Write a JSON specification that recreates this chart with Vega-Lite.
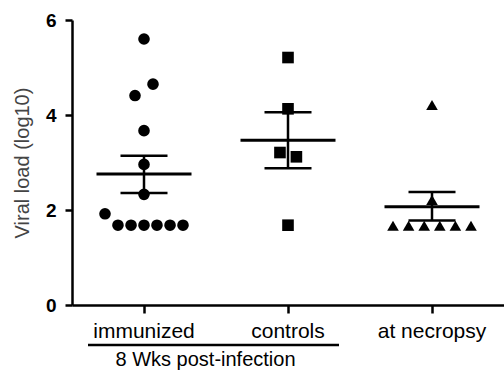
{
  "$schema": "https://vega.github.io/schema/vega-lite/v6.json",
  "width": 432,
  "height": 285,
  "autosize": "none",
  "padding": {"left": 72, "top": 20, "right": 0, "bottom": 67},
  "background": "white",
  "config": {
    "view": {"stroke": null},
    "font": "Liberation Sans",
    "axis": {"grid": false, "domainColor": "#000", "tickColor": "#000", "labelColor": "#000", "domainWidth": 2.5, "tickWidth": 2.5}
  },
  "datasets": {
    "pts": [
      {"group": "immunized", "value": 5.6, "jit": 0},
      {"group": "immunized", "value": 4.65, "jit": 0.75},
      {"group": "immunized", "value": 4.41, "jit": -0.75},
      {"group": "immunized", "value": 3.67, "jit": 0},
      {"group": "immunized", "value": 2.96, "jit": 0},
      {"group": "immunized", "value": 2.33, "jit": 0},
      {"group": "immunized", "value": 1.92, "jit": -3.25},
      {"group": "immunized", "value": 1.68, "jit": -2.17},
      {"group": "immunized", "value": 1.68, "jit": -1.08},
      {"group": "immunized", "value": 1.68, "jit": 0},
      {"group": "immunized", "value": 1.68, "jit": 1.08},
      {"group": "immunized", "value": 1.68, "jit": 2.17},
      {"group": "immunized", "value": 1.68, "jit": 3.25},
      {"group": "controls", "value": 5.21, "jit": 0},
      {"group": "controls", "value": 4.13, "jit": 0},
      {"group": "controls", "value": 3.21, "jit": -0.67},
      {"group": "controls", "value": 3.12, "jit": 0.7},
      {"group": "controls", "value": 1.68, "jit": 0},
      {"group": "at necropsy", "value": 4.21, "jit": 0},
      {"group": "at necropsy", "value": 2.21, "jit": 0},
      {"group": "at necropsy", "value": 1.67, "jit": -3.25},
      {"group": "at necropsy", "value": 1.67, "jit": -1.95},
      {"group": "at necropsy", "value": 1.67, "jit": -0.65},
      {"group": "at necropsy", "value": 1.67, "jit": 0.65},
      {"group": "at necropsy", "value": 1.67, "jit": 1.95},
      {"group": "at necropsy", "value": 1.67, "jit": 3.25}
    ],
    "stats": [
      {"group": "immunized", "mean": 2.76, "lo": 2.36, "hi": 3.14},
      {"group": "controls", "mean": 3.47, "lo": 2.88, "hi": 4.06},
      {"group": "at necropsy", "mean": 2.07, "lo": 1.78, "hi": 2.38}
    ],
    "bracket": [
      {"from": "immunized", "to": "controls", "level": -0.84}
    ]
  },
  "layer": [
    {
      "data": {"name": "pts"},
      "mark": {"type": "point", "filled": true, "opacity": 1, "color": "#000", "size": 135},
      "encoding": {
        "x": {
          "field": "group", "type": "nominal", "title": "8 Wks post-infection",
          "scale": {"domain": ["immunized", "controls", "at necropsy"], "paddingInner": 0, "paddingOuter": 0},
          "axis": {"titleFontSize": 20, "titleFontWeight": "normal", "titleColor": "#000", "titleX": 133, "titleY": 60, "titleAlign": "center", "titleBaseline": "alphabetic", "labelFontSize": 21, "labelAngle": 0, "labelPadding": 7, "tickSize": 8}
        },
        "xOffset": {"field": "jit", "type": "quantitative", "scale": {"domain": [-6, 6], "range": [0, 144]}},
        "y": {
          "field": "value", "type": "quantitative", "title": "Viral load (log10)",
          "scale": {"domain": [0, 6], "nice": false},
          "axis": {"titleFontSize": 20, "titleFontWeight": "normal", "titleColor": "#444", "titlePadding": 13, "values": [0, 2, 4, 6], "labelFontSize": 19, "labelFontWeight": "bold", "labelPadding": 9, "tickSize": 7}
        },
        "shape": {
          "field": "group", "type": "nominal",
          "scale": {"domain": ["immunized", "controls", "at necropsy"], "range": ["circle", "square", "triangle-up"]},
          "legend": null
        }
      }
    },
    {
      "data": {"name": "stats"},
      "mark": {"type": "rule", "color": "#000", "strokeWidth": 2.5},
      "encoding": {
        "x": {"field": "group", "type": "nominal", "title": "8 Wks post-infection", "scale": {"domain": ["immunized", "controls", "at necropsy"], "paddingInner": 0, "paddingOuter": 0}},
        "y": {"field": "lo", "type": "quantitative", "title": "Viral load (log10)", "scale": {"domain": [0, 6], "nice": false}},
        "y2": {"field": "hi"}
      }
    },
    {
      "data": {"name": "stats"},
      "mark": {"type": "tick", "color": "#000", "opacity": 1, "size": 95, "thickness": 3},
      "encoding": {
        "x": {"field": "group", "type": "nominal", "title": "8 Wks post-infection", "scale": {"domain": ["immunized", "controls", "at necropsy"], "paddingInner": 0, "paddingOuter": 0}},
        "y": {"field": "mean", "type": "quantitative", "title": "Viral load (log10)", "scale": {"domain": [0, 6], "nice": false}}
      }
    },
    {
      "data": {"name": "stats"},
      "mark": {"type": "tick", "color": "#000", "opacity": 1, "size": 47, "thickness": 2.5},
      "encoding": {
        "x": {"field": "group", "type": "nominal", "title": "8 Wks post-infection", "scale": {"domain": ["immunized", "controls", "at necropsy"], "paddingInner": 0, "paddingOuter": 0}},
        "y": {"field": "lo", "type": "quantitative", "title": "Viral load (log10)", "scale": {"domain": [0, 6], "nice": false}}
      }
    },
    {
      "data": {"name": "stats"},
      "mark": {"type": "tick", "color": "#000", "opacity": 1, "size": 47, "thickness": 2.5},
      "encoding": {
        "x": {"field": "group", "type": "nominal", "title": "8 Wks post-infection", "scale": {"domain": ["immunized", "controls", "at necropsy"], "paddingInner": 0, "paddingOuter": 0}},
        "y": {"field": "hi", "type": "quantitative", "title": "Viral load (log10)", "scale": {"domain": [0, 6], "nice": false}}
      }
    },
    {
      "data": {"name": "bracket"},
      "mark": {"type": "rule", "color": "#000", "strokeWidth": 2.5, "xOffset": -56, "x2Offset": 51},
      "encoding": {
        "x": {"field": "from", "type": "nominal", "title": "8 Wks post-infection", "scale": {"domain": ["immunized", "controls", "at necropsy"], "paddingInner": 0, "paddingOuter": 0}},
        "x2": {"field": "to"},
        "y": {"field": "level", "type": "quantitative", "title": "Viral load (log10)", "scale": {"domain": [0, 6], "nice": false}}
      }
    }
  ]
}
